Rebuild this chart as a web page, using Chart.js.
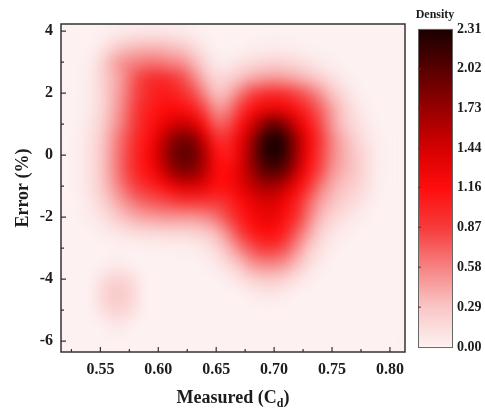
<!DOCTYPE html>
<html>
<head>
<meta charset="utf-8">
<script src="https://cdn.jsdelivr.net/npm/chart.js@4"></script>
<style>
  html, body { margin:0; padding:0; background:#fff; }
  #wrap { width:485px; height:409px; }
</style>
</head>
<body>
<div id="wrap"><canvas id="densityChart" width="485" height="409"></canvas></div>
<script>
// grid centres
const measured = [0.52, 0.53, 0.54, 0.55, 0.56, 0.57, 0.58, 0.59, 0.60, 0.61, 0.62, 0.63, 0.64, 0.65, 0.66,
                  0.67, 0.68, 0.69, 0.70, 0.71, 0.72, 0.73, 0.74, 0.75, 0.76, 0.77, 0.78, 0.79, 0.80];
const errorPct = [4, 3.5, 3, 2.5, 2, 1.5, 1, 0.5, 0, -0.5, -1, -1.5, -2, -2.5, -3, -3.5, -4, -4.5, -5, -5.5, -6];

// density, one row per errorPct value, one column per measured value
const density = [
  [0,0,0,0,0.03,0.05,0.06,0.07,0.07,0.06,0.05,0.03,0,0,0,0,0,0,0,0,0,0,0,0,0,0,0,0,0],                        // 4
  [0,0,0,0.06,0.18,0.28,0.33,0.35,0.35,0.32,0.27,0.16,0.06,0,0,0,0.02,0.03,0.04,0.03,0.02,0,0,0,0,0,0,0,0],          // 3.5
  [0,0,0.03,0.16,0.38,0.52,0.58,0.62,0.62,0.57,0.52,0.37,0.18,0.06,0.05,0.1,0.15,0.18,0.2,0.18,0.15,0.1,0.05,0.02,0,0,0,0,0], // 3
  [0,0,0.05,0.18,0.36,0.53,0.76,0.9,0.95,0.9,0.8,0.6,0.35,0.18,0.2,0.3,0.4,0.45,0.48,0.45,0.4,0.32,0.22,0.12,0.05,0,0,0,0], // 2.5
  [0,0,0.05,0.16,0.36,0.56,0.8,0.95,1.05,1.05,0.95,0.8,0.55,0.32,0.38,0.6,0.8,0.9,0.95,0.9,0.8,0.68,0.5,0.3,0.15,0.05,0,0,0], // 2
  [0,0,0.06,0.17,0.38,0.6,0.85,1.02,1.12,1.18,1.15,1.05,0.8,0.52,0.58,0.85,1.1,1.25,1.3,1.25,1.1,0.9,0.7,0.45,0.25,0.1,0.03,0,0], // 1.5
  [0,0.01,0.08,0.2,0.42,0.65,0.88,1.07,1.22,1.4,1.5,1.42,1.1,0.74,0.78,1.08,1.4,1.75,1.95,1.75,1.42,1.1,0.8,0.5,0.3,0.15,0.06,0,0], // 1
  [0,0.02,0.1,0.24,0.48,0.72,0.95,1.12,1.4,1.7,1.88,1.82,1.45,1.0,0.97,1.28,1.65,2.12,2.31,2.12,1.65,1.22,0.88,0.58,0.38,0.22,0.1,0.02,0], // 0.5
  [0,0.02,0.11,0.26,0.5,0.75,0.98,1.17,1.45,1.8,1.97,1.93,1.62,1.15,1.07,1.32,1.72,2.15,2.28,2.1,1.65,1.2,0.85,0.58,0.4,0.28,0.14,0.03,0], // 0
  [0,0.02,0.11,0.26,0.5,0.75,0.97,1.12,1.35,1.65,1.82,1.8,1.55,1.2,1.17,1.37,1.67,1.95,2.05,1.9,1.5,1.1,0.8,0.52,0.38,0.28,0.14,0.03,0], // -0.5
  [0,0.02,0.1,0.24,0.45,0.66,0.84,0.97,1.08,1.25,1.38,1.4,1.3,1.15,1.17,1.32,1.5,1.65,1.65,1.5,1.22,0.92,0.62,0.42,0.3,0.22,0.12,0.02,0], // -1
  [0,0.01,0.07,0.18,0.34,0.5,0.64,0.73,0.78,0.83,0.88,0.9,0.9,0.9,0.98,1.15,1.3,1.4,1.4,1.25,1.02,0.72,0.47,0.32,0.22,0.14,0.06,0,0], // -1.5
  [0,0,0.04,0.1,0.2,0.32,0.4,0.45,0.48,0.5,0.5,0.5,0.55,0.65,0.82,1.02,1.18,1.28,1.28,1.12,0.9,0.6,0.35,0.2,0.12,0.06,0.02,0,0], // -2
  [0,0,0.01,0.03,0.07,0.11,0.14,0.16,0.17,0.18,0.19,0.21,0.26,0.36,0.57,0.83,1.04,1.14,1.14,0.98,0.72,0.45,0.22,0.1,0.04,0,0,0,0], // -2.5
  [0,0,0,0,0,0.01,0.01,0.02,0.02,0.02,0.03,0.04,0.08,0.18,0.36,0.58,0.76,0.87,0.87,0.76,0.52,0.28,0.12,0.04,0,0,0,0,0], // -3
  [0,0,0,0,0.04,0.04,0,0,0,0,0,0,0.02,0.07,0.17,0.32,0.48,0.56,0.56,0.48,0.32,0.15,0.05,0,0,0,0,0,0],            // -3.5
  [0,0,0,0.1,0.19,0.19,0.1,0,0,0,0,0,0,0,0.04,0.11,0.2,0.26,0.26,0.2,0.11,0.04,0,0,0,0,0,0,0],              // -4
  [0,0,0,0.14,0.26,0.26,0.14,0,0,0,0,0,0,0,0,0,0.04,0.07,0.07,0.04,0,0,0,0,0,0,0,0,0],                       // -4.5
  [0,0,0,0.1,0.19,0.19,0.1,0,0,0,0,0,0,0,0,0,0,0,0,0,0,0,0,0,0,0,0,0,0],                                   // -5
  [0,0,0,0,0.06,0.06,0,0,0,0,0,0,0,0,0,0,0,0,0,0,0,0,0,0,0,0,0,0,0],                                         // -5.5
  [0,0,0,0,0,0,0,0,0,0,0,0,0,0,0,0,0,0,0,0,0,0,0,0,0,0,0,0,0]                                                // -6
];

const xTickValues = [0.55, 0.60, 0.65, 0.70, 0.75, 0.80];
const yTickValues = [-6, -4, -2, 0, 2, 4];
const densityTickValues = [0.00, 0.29, 0.58, 0.87, 1.16, 1.44, 1.73, 2.02, 2.31];

// colour map (white-pink -> red -> black)
const cmap = [
  [0.00, [253, 241, 241]],
  [0.29, [250, 198, 198]],
  [0.58, [246, 130, 130]],
  [0.87, [246, 58, 58]],
  [1.16, [255, 12, 12]],
  [1.44, [214, 0, 0]],
  [1.73, [152, 0, 0]],
  [2.02, [88, 0, 0]],
  [2.31, [26, 0, 0]]
];

function colorAt(v) {
  if (v <= cmap[0][0]) return cmap[0][1];
  for (let i = 1; i < cmap.length; i++) {
    if (v <= cmap[i][0]) {
      const [a, ca] = cmap[i-1], [b, cb] = cmap[i];
      const t = (v - a) / (b - a);
      return ca.map((c, k) => Math.round(c + (cb[k] - c) * t));
    }
  }
  return cmap[cmap.length-1][1];
}
const rgb = c => `rgb(${c[0]},${c[1]},${c[2]})`;

const serif = '"Liberation Serif", "Times New Roman", serif';
const ink = '#1c1c1c';

const heatmapPlugin = {
  id: 'heatmap',
  beforeDatasetsDraw(chart) {
    const {ctx, chartArea: a} = chart;
    const xs = chart.scales.x, ys = chart.scales.y;
    const cols = measured.length, rows = errorPct.length;

    const off = document.createElement('canvas');
    off.width = cols; off.height = rows;
    const octx = off.getContext('2d');
    const img = octx.createImageData(cols, rows);
    for (let r = 0; r < rows; r++) {
      for (let c = 0; c < cols; c++) {
        const col = colorAt(density[r][c]);
        const p = (r * cols + c) * 4;
        img.data[p] = col[0]; img.data[p+1] = col[1]; img.data[p+2] = col[2]; img.data[p+3] = 255;
      }
    }
    octx.putImageData(img, 0, 0);

    const dx = measured[1] - measured[0];
    const dy = errorPct[0] - errorPct[1];
    const left = xs.getPixelForValue(measured[0] - dx/2);
    const right = xs.getPixelForValue(measured[cols-1] + dx/2);
    const top = ys.getPixelForValue(errorPct[0] + dy/2);
    const bottom = ys.getPixelForValue(errorPct[rows-1] - dy/2);

    ctx.save();
    ctx.beginPath();
    ctx.rect(a.left, a.top, a.width, a.height);
    ctx.clip();
    ctx.fillStyle = rgb(colorAt(0));
    ctx.fillRect(a.left, a.top, a.width, a.height);
    ctx.imageSmoothingEnabled = true;
    ctx.imageSmoothingQuality = 'high';
    ctx.filter = 'blur(3px)';
    ctx.drawImage(off, left, top, right - left, bottom - top);
    ctx.restore();
  },
  afterDraw(chart) {
    const {ctx, chartArea: a} = chart;
    const xs = chart.scales.x, ys = chart.scales.y, cs = chart.scales.cb;
    ctx.save();

    // frame
    ctx.strokeStyle = '#333';
    ctx.lineWidth = 1.5;
    ctx.strokeRect(a.left, a.top, a.width, a.height);

    // inward ticks
    ctx.lineWidth = 1.2;
    ctx.beginPath();
    xTickValues.forEach(v => {
      const px = xs.getPixelForValue(v);
      ctx.moveTo(px, a.bottom); ctx.lineTo(px, a.bottom - 5);
      const m = xs.getPixelForValue(v - 0.025);
      if (m > a.left) { ctx.moveTo(m, a.bottom); ctx.lineTo(m, a.bottom - 3); }
    });
    yTickValues.forEach(v => {
      const py = ys.getPixelForValue(v);
      ctx.moveTo(a.left, py); ctx.lineTo(a.left + 5, py);
      const m = ys.getPixelForValue(v + 1);
      if (m > a.top) { ctx.moveTo(a.left, m); ctx.lineTo(a.left + 3, m); }
    });
    ctx.stroke();

    // colour bar
    const barL = 418, barR = 452;
    const y0 = cs.getPixelForValue(0), y1 = cs.getPixelForValue(2.31);
    const grad = ctx.createLinearGradient(0, y0, 0, y1);
    cmap.forEach(([v, c]) => grad.addColorStop(v / 2.31, rgb(c)));
    ctx.fillStyle = grad;
    ctx.fillRect(barL, y1, barR - barL, y0 - y1);
    ctx.strokeStyle = '#666';
    ctx.lineWidth = 1;
    ctx.strokeRect(barL + 0.5, y1 + 0.5, barR - barL, y0 - y1);
    ctx.beginPath();
    densityTickValues.slice(1, -1).forEach(v => {
      const py = cs.getPixelForValue(v);
      ctx.moveTo(barL, py); ctx.lineTo(barL + 3, py);
    });
    ctx.strokeStyle = '#8a2020';
    ctx.stroke();

    ctx.fillStyle = ink;
    ctx.font = `bold 12px ${serif}`;
    ctx.textAlign = 'center';
    ctx.textBaseline = 'middle';
    ctx.fillText('Density', 435, 15);

    // x title with subscript
    const big = `bold 18px ${serif}`, small = `bold 12px ${serif}`;
    ctx.font = big;
    const p1 = 'Measured (C', p3 = ')';
    const w1 = ctx.measureText(p1).width, w3 = ctx.measureText(p3).width;
    ctx.font = small;
    const w2 = ctx.measureText('d').width;
    const total = w1 + w2 + w3;
    let x = (a.left + a.right) / 2 - total / 2;
    const by = 403;
    ctx.textAlign = 'left';
    ctx.textBaseline = 'alphabetic';
    ctx.font = big; ctx.fillText(p1, x, by); x += w1;
    ctx.font = small; ctx.fillText('d', x, by + 4); x += w2;
    ctx.font = big; ctx.fillText(p3, x, by);

    // y title
    ctx.translate(23, (a.top + a.bottom) / 2);
    ctx.rotate(-Math.PI / 2);
    ctx.font = big;
    ctx.textAlign = 'center';
    ctx.textBaseline = 'middle';
    ctx.fillText('Error (%)', 0, 0);
    ctx.restore();
  }
};

const tickFont = { family: serif, weight: 'bold', size: 16 };

new Chart(document.getElementById('densityChart').getContext('2d'), {
  type: 'scatter',
  data: { datasets: [] },
  options: {
    responsive: false,
    animation: false,
    layout: { padding: { top: 24, left: 0, right: 0, bottom: 0 } },
    plugins: { legend: { display: false }, tooltip: { enabled: false } },
    scales: {
      x: {
        type: 'linear', min: 0.516, max: 0.813,
        grid: { display: false, drawTicks: false }, border: { display: false },
        afterBuildTicks: s => { s.ticks = xTickValues.map(v => ({ value: v })); },
        afterFit: s => { s.height = 57; s.paddingLeft = 0; s.paddingRight = 0; },
        ticks: { callback: v => v.toFixed(2), font: tickFont, color: ink, padding: 8, maxRotation: 0, autoSkip: false }
      },
      y: {
        type: 'linear', min: -6.35, max: 4.23,
        grid: { display: false, drawTicks: false }, border: { display: false },
        afterBuildTicks: s => { s.ticks = yTickValues.map(v => ({ value: v })); },
        afterFit: s => { s.width = 61; s.paddingTop = 0; s.paddingBottom = 0; },
        ticks: { callback: v => String(v), font: tickFont, color: ink, padding: 8, autoSkip: false }
      },
      cb: {
        type: 'linear', axis: 'y', position: 'right', min: -0.036, max: 2.346,
        grid: { display: false, drawTicks: false }, border: { display: false },
        afterBuildTicks: s => { s.ticks = densityTickValues.map(v => ({ value: v })); },
        afterFit: s => { s.width = 80; s.paddingTop = 0; s.paddingBottom = 0; },
        ticks: { callback: v => v.toFixed(2), font: { family: serif, weight: 'bold', size: 14 }, color: ink, padding: 52, autoSkip: false }
      }
    }
  },
  plugins: [heatmapPlugin]
});
</script>
</body>
</html>
